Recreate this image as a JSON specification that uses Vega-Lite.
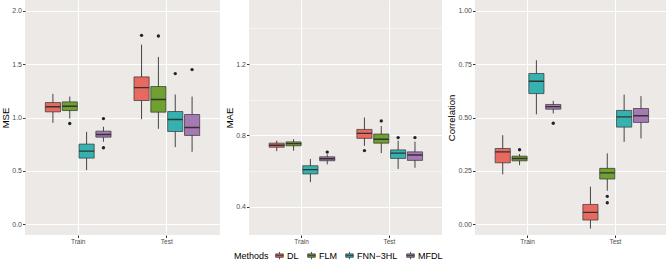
{
  "$schema": "https://vega.github.io/schema/vega-lite/v6.json",
  "padding": {"left": 0, "top": 0, "right": 0, "bottom": 0},
  "bounds": "flush",
  "spacing": 29,
  "datasets": {
    "stats": [
      {"metric": "MSE", "split": "Train", "method": "DL", "lower": 0.950, "q1": 1.053, "median": 1.100, "q3": 1.140, "upper": 1.221},
      {"metric": "MSE", "split": "Train", "method": "FLM", "lower": 0.990, "q1": 1.065, "median": 1.106, "q3": 1.146, "upper": 1.196},
      {"metric": "MSE", "split": "Train", "method": "FNN−3HL", "lower": 0.508, "q1": 0.620, "median": 0.685, "q3": 0.751, "upper": 0.866},
      {"metric": "MSE", "split": "Train", "method": "MFDL", "lower": 0.773, "q1": 0.816, "median": 0.841, "q3": 0.872, "upper": 0.913},
      {"metric": "MSE", "split": "Test", "method": "DL", "lower": 0.984, "q1": 1.159, "median": 1.280, "q3": 1.380, "upper": 1.682},
      {"metric": "MSE", "split": "Test", "method": "FLM", "lower": 0.894, "q1": 1.050, "median": 1.168, "q3": 1.290, "upper": 1.567},
      {"metric": "MSE", "split": "Test", "method": "FNN−3HL", "lower": 0.723, "q1": 0.869, "median": 0.981, "q3": 1.056, "upper": 1.215},
      {"metric": "MSE", "split": "Test", "method": "MFDL", "lower": 0.679, "q1": 0.832, "median": 0.907, "q3": 1.028, "upper": 1.196},
      {"metric": "MAE", "split": "Train", "method": "DL", "lower": 0.711, "q1": 0.733, "median": 0.744, "q3": 0.756, "upper": 0.770},
      {"metric": "MAE", "split": "Train", "method": "FLM", "lower": 0.714, "q1": 0.741, "median": 0.753, "q3": 0.763, "upper": 0.778},
      {"metric": "MAE", "split": "Train", "method": "FNN−3HL", "lower": 0.537, "q1": 0.583, "median": 0.607, "q3": 0.629, "upper": 0.667},
      {"metric": "MAE", "split": "Train", "method": "MFDL", "lower": 0.637, "q1": 0.657, "median": 0.668, "q3": 0.679, "upper": 0.692},
      {"metric": "MAE", "split": "Test", "method": "DL", "lower": 0.741, "q1": 0.783, "median": 0.811, "q3": 0.833, "upper": 0.900},
      {"metric": "MAE", "split": "Test", "method": "FLM", "lower": 0.700, "q1": 0.756, "median": 0.778, "q3": 0.807, "upper": 0.852},
      {"metric": "MAE", "split": "Test", "method": "FNN−3HL", "lower": 0.611, "q1": 0.670, "median": 0.700, "q3": 0.718, "upper": 0.770},
      {"metric": "MAE", "split": "Test", "method": "MFDL", "lower": 0.618, "q1": 0.659, "median": 0.689, "q3": 0.707, "upper": 0.764},
      {"metric": "Correlation", "split": "Train", "method": "DL", "lower": 0.234, "q1": 0.288, "median": 0.339, "q3": 0.355, "upper": 0.417},
      {"metric": "Correlation", "split": "Train", "method": "FLM", "lower": 0.277, "q1": 0.297, "median": 0.308, "q3": 0.319, "upper": 0.329},
      {"metric": "Correlation", "split": "Train", "method": "FNN−3HL", "lower": 0.515, "q1": 0.612, "median": 0.670, "q3": 0.706, "upper": 0.768},
      {"metric": "Correlation", "split": "Train", "method": "MFDL", "lower": 0.519, "q1": 0.539, "median": 0.551, "q3": 0.561, "upper": 0.578},
      {"metric": "Correlation", "split": "Test", "method": "DL", "lower": -0.020, "q1": 0.020, "median": 0.056, "q3": 0.093, "upper": 0.176},
      {"metric": "Correlation", "split": "Test", "method": "FLM", "lower": 0.157, "q1": 0.212, "median": 0.241, "q3": 0.262, "upper": 0.332},
      {"metric": "Correlation", "split": "Test", "method": "FNN−3HL", "lower": 0.386, "q1": 0.455, "median": 0.503, "q3": 0.533, "upper": 0.607},
      {"metric": "Correlation", "split": "Test", "method": "MFDL", "lower": 0.402, "q1": 0.477, "median": 0.508, "q3": 0.542, "upper": 0.600}
    ],
    "outliers": [
      {"metric": "MSE", "split": "Train", "method": "FLM", "value": 0.944},
      {"metric": "MSE", "split": "Train", "method": "MFDL", "value": 0.990},
      {"metric": "MSE", "split": "Train", "method": "MFDL", "value": 0.717},
      {"metric": "MSE", "split": "Test", "method": "DL", "value": 1.769},
      {"metric": "MSE", "split": "Test", "method": "FLM", "value": 1.763},
      {"metric": "MSE", "split": "Test", "method": "FNN−3HL", "value": 1.411},
      {"metric": "MSE", "split": "Test", "method": "MFDL", "value": 1.449},
      {"metric": "MAE", "split": "Train", "method": "MFDL", "value": 0.706},
      {"metric": "MAE", "split": "Test", "method": "DL", "value": 0.714},
      {"metric": "MAE", "split": "Test", "method": "FLM", "value": 0.881},
      {"metric": "MAE", "split": "Test", "method": "FNN−3HL", "value": 0.787},
      {"metric": "MAE", "split": "Test", "method": "MFDL", "value": 0.787},
      {"metric": "Correlation", "split": "Train", "method": "FLM", "value": 0.349},
      {"metric": "Correlation", "split": "Train", "method": "MFDL", "value": 0.473},
      {"metric": "Correlation", "split": "Test", "method": "FLM", "value": 0.131},
      {"metric": "Correlation", "split": "Test", "method": "FLM", "value": 0.101}
    ]
  },
  "hconcat": [
    {
      "width": 195, "height": 235,
      "encoding": {
        "x": {"field": "split", "type": "nominal", "sort": ["Train", "Test"], "scale": {"paddingInner": 0.24, "paddingOuter": 0.22}, "axis": {"title": null, "labelAngle": 0, "grid": true, "gridWidth": 1.1, "bandPosition": 0.5, "labelFontSize": 6.5}},
        "xOffset": {"field": "method", "type": "nominal", "sort": ["DL", "FLM", "FNN−3HL", "MFDL"], "scale": {"paddingInner": 0.1, "paddingOuter": 0.05}}
      },
      "layer": [
        {"data": {"name": "stats"}, "transform": [{"filter": "datum.metric == 'MSE'"}], "mark": {"type": "rule", "color": "#333333", "strokeWidth": 0.9},
         "encoding": {"y": {"field": "lower", "type": "quantitative", "scale": {"domain": [-0.1, 2.1], "nice": false, "zero": false},
           "axis": {"title": "MSE", "values": [0, 0.25, 0.5, 0.75, 1, 1.25, 1.5, 1.75, 2], "format": ".1f",
             "labelExpr": "indexof([0, 0.5, 1, 1.5, 2], datum.value) >= 0 ? datum.label : ''",
             "gridWidth": {"condition": {"test": "indexof([0, 0.5, 1, 1.5, 2], datum.value) >= 0", "value": 1.1}, "value": 0.5},
             "tickOpacity": {"condition": {"test": "indexof([0, 0.5, 1, 1.5, 2], datum.value) >= 0", "value": 1}, "value": 0}}},
           "y2": {"field": "upper"}}},
        {"data": {"name": "stats"}, "transform": [{"filter": "datum.metric == 'MSE'"}], "mark": {"type": "bar", "stroke": "#333333", "strokeWidth": 0.7, "opacity": 1},
         "encoding": {"y": {"field": "q1", "type": "quantitative"}, "y2": {"field": "q3"},
           "color": {"field": "method", "type": "nominal", "sort": ["DL", "FLM", "FNN−3HL", "MFDL"],
             "scale": {"domain": ["DL", "FLM", "FNN−3HL", "MFDL"], "range": ["#E7695F", "#70A02F", "#35B2B0", "#A679B4"]},
             "legend": {"title": "Methods", "orient": "none", "legendX": 209, "legendY": 251, "direction": "horizontal", "titleOrient": "left",
               "symbolType": "M-1,-0.45H1V0.45H-1Z M-1,0H1 M0,-0.45V-1 M0,0.45V1", "symbolSize": 56, "symbolStrokeColor": "#333333", "symbolStrokeWidth": 0.8,
               "labelFontSize": 9, "titleFontSize": 9, "titleFontWeight": "normal", "labelColor": "black", "titleColor": "black", "labelOffset": 3, "columnPadding": 7, "titlePadding": 6}}}},
        {"data": {"name": "stats"}, "transform": [{"filter": "datum.metric == 'MSE'"}], "mark": {"type": "bar", "stroke": "#333333", "strokeWidth": 1.4, "fillOpacity": 0},
         "encoding": {"y": {"field": "median", "type": "quantitative"}, "y2": {"field": "median"}}},
        {"data": {"name": "outliers"}, "transform": [{"filter": "datum.metric == 'MSE'"}], "mark": {"type": "circle", "size": 11, "color": "#222222", "opacity": 1},
         "encoding": {"y": {"field": "value", "type": "quantitative"}}}
      ]
    },
    {
      "bounds": "flush",
      "spacing": 33,
      "hconcat": [
        {
          "width": 193, "height": 235,
          "encoding": {
            "x": {"field": "split", "type": "nominal", "sort": ["Train", "Test"], "scale": {"paddingInner": 0.24, "paddingOuter": 0.22}, "axis": {"title": null, "labelAngle": 0, "grid": true, "gridWidth": 1.1, "bandPosition": 0.5, "labelFontSize": 6.5}},
            "xOffset": {"field": "method", "type": "nominal", "sort": ["DL", "FLM", "FNN−3HL", "MFDL"], "scale": {"paddingInner": 0.1, "paddingOuter": 0.05}}
          },
          "layer": [
            {"data": {"name": "stats"}, "transform": [{"filter": "datum.metric == 'MAE'"}], "mark": {"type": "rule", "color": "#333333", "strokeWidth": 0.9},
             "encoding": {"y": {"field": "lower", "type": "quantitative", "scale": {"domain": [0.24, 1.56], "nice": false, "zero": false},
               "axis": {"title": "MAE", "values": [0.4, 0.6, 0.8, 1, 1.2, 1.4], "format": ".1f",
                 "labelExpr": "indexof([0.4, 0.8, 1.2], datum.value) >= 0 ? datum.label : ''",
                 "gridWidth": {"condition": {"test": "indexof([0.4, 0.8, 1.2], datum.value) >= 0", "value": 1.1}, "value": 0.5},
                 "tickOpacity": {"condition": {"test": "indexof([0.4, 0.8, 1.2], datum.value) >= 0", "value": 1}, "value": 0}}},
               "y2": {"field": "upper"}}},
            {"data": {"name": "stats"}, "transform": [{"filter": "datum.metric == 'MAE'"}], "mark": {"type": "bar", "stroke": "#333333", "strokeWidth": 0.7, "opacity": 1},
             "encoding": {"y": {"field": "q1", "type": "quantitative"}, "y2": {"field": "q3"},
               "color": {"field": "method", "type": "nominal", "sort": ["DL", "FLM", "FNN−3HL", "MFDL"]}}},
            {"data": {"name": "stats"}, "transform": [{"filter": "datum.metric == 'MAE'"}], "mark": {"type": "bar", "stroke": "#333333", "strokeWidth": 1.4, "fillOpacity": 0},
             "encoding": {"y": {"field": "median", "type": "quantitative"}, "y2": {"field": "median"}}},
            {"data": {"name": "outliers"}, "transform": [{"filter": "datum.metric == 'MAE'"}], "mark": {"type": "circle", "size": 11, "color": "#222222", "opacity": 1},
             "encoding": {"y": {"field": "value", "type": "quantitative"}}}
          ]
        },
        {
          "width": 193, "height": 235,
          "encoding": {
            "x": {"field": "split", "type": "nominal", "sort": ["Train", "Test"], "scale": {"paddingInner": 0.24, "paddingOuter": 0.22}, "axis": {"title": null, "labelAngle": 0, "grid": true, "gridWidth": 1.1, "bandPosition": 0.5, "labelFontSize": 6.5}},
            "xOffset": {"field": "method", "type": "nominal", "sort": ["DL", "FLM", "FNN−3HL", "MFDL"], "scale": {"paddingInner": 0.1, "paddingOuter": 0.05}}
          },
          "layer": [
            {"data": {"name": "stats"}, "transform": [{"filter": "datum.metric == 'Correlation'"}], "mark": {"type": "rule", "color": "#333333", "strokeWidth": 0.9},
             "encoding": {"y": {"field": "lower", "type": "quantitative", "scale": {"domain": [-0.05, 1.05], "nice": false, "zero": false},
               "axis": {"title": "Correlation", "values": [0, 0.125, 0.25, 0.375, 0.5, 0.625, 0.75, 0.875, 1], "format": ".2f",
                 "labelExpr": "indexof([0, 0.25, 0.5, 0.75, 1], datum.value) >= 0 ? datum.label : ''",
                 "gridWidth": {"condition": {"test": "indexof([0, 0.25, 0.5, 0.75, 1], datum.value) >= 0", "value": 1.1}, "value": 0.5},
                 "tickOpacity": {"condition": {"test": "indexof([0, 0.25, 0.5, 0.75, 1], datum.value) >= 0", "value": 1}, "value": 0}}},
               "y2": {"field": "upper"}}},
            {"data": {"name": "stats"}, "transform": [{"filter": "datum.metric == 'Correlation'"}], "mark": {"type": "bar", "stroke": "#333333", "strokeWidth": 0.7, "opacity": 1},
             "encoding": {"y": {"field": "q1", "type": "quantitative"}, "y2": {"field": "q3"},
               "color": {"field": "method", "type": "nominal", "sort": ["DL", "FLM", "FNN−3HL", "MFDL"]}}},
            {"data": {"name": "stats"}, "transform": [{"filter": "datum.metric == 'Correlation'"}], "mark": {"type": "bar", "stroke": "#333333", "strokeWidth": 1.4, "fillOpacity": 0},
             "encoding": {"y": {"field": "median", "type": "quantitative"}, "y2": {"field": "median"}}},
            {"data": {"name": "outliers"}, "transform": [{"filter": "datum.metric == 'Correlation'"}], "mark": {"type": "circle", "size": 11, "color": "#222222", "opacity": 1},
             "encoding": {"y": {"field": "value", "type": "quantitative"}}}
          ]
        }
      ]
    }
  ],
  "config": {
    "font": "Liberation Sans",
    "view": {"stroke": null, "fill": "#ECE9E6"},
    "axis": {"labelColor": "#4D4D4D", "tickColor": "#333333", "domain": false, "gridColor": "#FFFFFF", "labelFontSize": 7, "titleFontSize": 9.5, "titleFontWeight": "normal", "titleColor": "#000000", "tickSize": 2.5, "labelPadding": 1, "titlePadding": 1}
  }
}
